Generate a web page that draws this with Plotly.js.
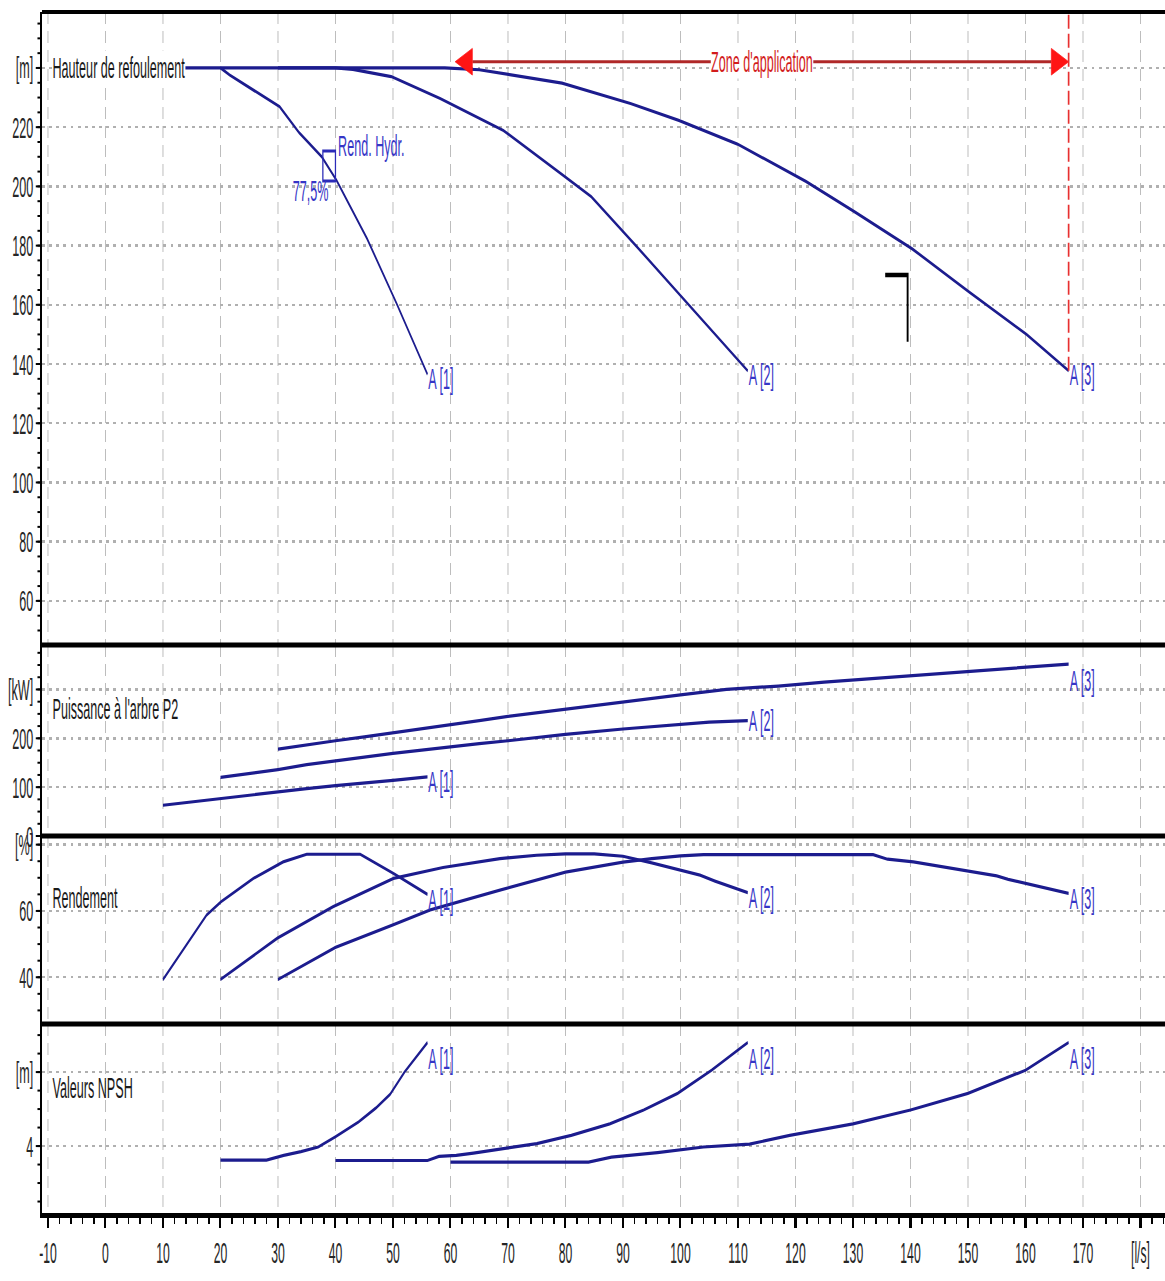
<!DOCTYPE html>
<html><head><meta charset="utf-8">
<script src="https://cdn.plot.ly/plotly-3.0.1.min.js"></script>
<style>
html,body{margin:0;padding:0;overflow:hidden;background:#fff;}
#wrap{width:1165px;height:1281px;overflow:hidden;position:relative;background:#fff;}
#chart{width:2774px;height:1281px;transform:scaleX(0.41997);transform-origin:0 0;}
</style></head><body><div id="wrap"><div id="chart"></div></div>
<script>
// ---------- data (flow Q in l/s) ----------
const pumpNames = ['A [1]', 'A [2]', 'A [3]'];

// Hauteur de refoulement [m]
const headA1_q = [10, 20, 21.6, 25.6, 30.3, 33.7, 37.6, 40.2, 45.5, 50.6, 56];
const headA1_h = [240, 240, 237.6, 232.6, 226.9, 218.1, 210, 202, 182.3, 160.6, 136.5];
const headA2_q = [20, 40, 43, 49.7, 58.2, 69.2, 79.4, 84.5, 92.1, 101.4, 111.7];
const headA2_h = [240, 240, 239.5, 237.1, 229.7, 218.9, 204, 196.5, 180.3, 160, 137.7];
const headA3_q = [30, 59, 65, 79.4, 91.3, 99.7, 109.9, 121.8, 130.3, 140.3, 150.2, 160.2, 167.5];
const headA3_h = [240, 240, 239.4, 234.9, 228, 222.3, 214.3, 201.7, 191.4, 178.9, 164.3, 150, 137.7];

// Puissance à l'arbre P2 [kW]
const powA1_q = [10, 15, 20, 25, 30, 35, 40, 45, 50, 56];
const powA1_p = [63, 70, 77, 84, 90, 97, 103, 108, 114, 121];
const powA2_q = [20, 25, 30, 35, 40, 45, 50, 55, 60, 65, 70, 80, 90, 100, 105, 111.7];
const powA2_p = [120, 128, 136, 146, 154, 162, 169, 176, 183, 189, 195, 208, 219, 229, 233, 236];
const powA3_q = [30, 35, 40, 45, 50, 55, 60, 65, 70, 80, 90, 100, 108, 117, 125, 133, 141, 149, 157, 167.5];
const powA3_p = [178, 187, 195, 203, 211, 219, 228, 236, 245, 260, 275, 289, 300, 307, 315, 322, 329, 335, 342, 352];

// Rendement [%]
const effA1_q = [10, 14, 17.6, 20.1, 25.7, 30.9, 35, 44.3, 50.1, 56];
const effA1_e = [39.3, 49.5, 58.8, 62.8, 69.8, 74.8, 77.1, 77.1, 71.3, 65];
const effA2_q = [20, 29.9, 39.6, 50.1, 58.7, 68.6, 75, 80, 85, 90, 95, 100, 103.4, 106, 111.7];
const effA2_e = [39.3, 51.8, 61.3, 69.8, 73.1, 75.8, 76.8, 77.2, 77.2, 76.5, 74.5, 72.3, 70.8, 69, 65.5];
const effA3_q = [30, 40, 50, 56.5, 68.6, 80, 90, 95, 100, 104, 133.5, 136, 140.5, 145, 149, 152, 155, 157, 159.5, 162, 164, 167.5];
const effA3_e = [39.3, 49, 55.8, 60.3, 66.3, 71.7, 74.7, 75.8, 76.6, 77, 77, 75.6, 74.8, 73.5, 72.5, 71.6, 70.6, 69.5, 68.5, 67.3, 66.5, 65.3];

// Valeurs NPSH [m]
const npA1_q = [20, 28, 31, 34, 37, 40, 44, 47, 49.5, 52, 56];
const npA1_n = [3.24, 3.24, 3.5, 3.7, 3.95, 4.5, 5.3, 6.05, 6.8, 8, 9.6];
const npA2_q = [40, 56, 58, 61, 64, 69, 72, 75, 81, 87.7, 93.6, 99.5, 105.4, 111.7];
const npA2_n = [3.22, 3.22, 3.44, 3.5, 3.62, 3.85, 3.95, 4.13, 4.58, 5.2, 5.95, 6.85, 8.1, 9.6];
const npA3_q = [60, 84, 88, 96, 104, 112, 119, 130, 140, 150, 160, 167.5];
const npA3_n = [3.13, 3.13, 3.4, 3.64, 3.95, 4.1, 4.58, 5.2, 5.95, 6.85, 8.1, 9.6];

// best efficiency point marker (Rend. Hydr.)
const bepQ = 38.9, bepH = 206.9, bepText = '77,5%';
// application zone
const zoneStart = 60.8, zoneEnd = 167.5, zoneH = 242.1;
// small black bracket mark
const bracketQ = [135.6, 139.5, 139.5];
const bracketH = [170.1, 170.1, 147.5];

// axis ticks
const xTickVals = [-10, 0, 10, 20, 30, 40, 50, 60, 70, 80, 90, 100, 110, 120, 130, 140, 150, 160, 170, 180];
const xTickText = ['-10', '0', '10', '20', '30', '40', '50', '60', '70', '80', '90', '100', '110', '120', '130', '140', '150', '160', '170', '[l/s]'];
const headTickVals = [60, 80, 100, 120, 140, 160, 180, 200, 220, 240];
const headTickText = ['60', '80', '100', '120', '140', '160', '180', '200', '220', '[m]'];
const powTickVals = [0, 100, 200, 300];
const powTickText = ['0', '100', '200', '[kW]'];
const effTickVals = [40, 60, 80];
const effTickText = ['40', '60', '[%]'];
const npTickVals = [4, 8];
const npTickText = ['4', '[m]'];

// ---------- styling ----------
const FONT = 'Liberation Sans, Arial, sans-serif';
const CURVE = '#1c1c8e';
const LABEL = '#3636c6';
const dom = {y: [0.47294, 1], y2: [0.3139, 0.47294], y3: [0.15737, 0.3139], y4: [0, 0.15737]};

const traces = [];
function curve(q, v, ya) {
  traces.push({x: q, y: v, xaxis: 'x', yaxis: ya, mode: 'lines', type: 'scatter',
    line: {color: CURVE, width: 3.2}, hoverinfo: 'skip', showlegend: false});
}
const panels = [
  {ya: 'y',  sets: [[headA1_q, headA1_h], [headA2_q, headA2_h], [headA3_q, headA3_h]], anchor: ['middle','middle','middle'], shift: [-4,-4,-4]},
  {ya: 'y2', sets: [[powA1_q, powA1_p], [powA2_q, powA2_p], [powA3_q, powA3_p]], anchor: ['middle','middle','top'], shift: [-5,0,2]},
  {ya: 'y3', sets: [[effA1_q, effA1_e], [effA2_q, effA2_e], [effA3_q, effA3_e]], anchor: ['middle','middle','middle'], shift: [-5,-5,-5]},
  {ya: 'y4', sets: [[npA1_q, npA1_n], [npA2_q, npA2_n], [npA3_q, npA3_n]], anchor: ['top','top','top'], shift: [2,2,2]}
];
const annotations = [];
panels.forEach(p => {
  p.sets.forEach((s, i) => {
    curve(s[0], s[1], p.ya);
    annotations.push({x: s[0][s[0].length - 1], y: s[1][s[1].length - 1], xref: 'x', yref: p.ya,
      text: pumpNames[i], showarrow: false, xanchor: 'left', yanchor: p.anchor[i], yshift: p.shift[i],
      font: {family: FONT, size: 30, color: LABEL}});
  });
});

// BEP marker
traces.push({x: [bepQ], y: [bepH], xaxis: 'x', yaxis: 'y', mode: 'markers', type: 'scatter',
  marker: {symbol: 'square-open', size: 30, color: '#2b2bb8', line: {width: 3, color: '#2b2bb8'}},
  hoverinfo: 'skip', showlegend: false});
annotations.push({x: bepQ, y: bepH, xref: 'x', yref: 'y', text: 'Rend. Hydr.', showarrow: false,
  xanchor: 'left', yanchor: 'middle', xshift: 19, yshift: 20, font: {family: FONT, size: 30, color: LABEL}});
annotations.push({x: bepQ, y: bepH, xref: 'x', yref: 'y', text: bepText, showarrow: false,
  xanchor: 'right', yanchor: 'middle', xshift: 0, yshift: -25, font: {family: FONT, size: 30, color: LABEL}});

// bracket mark
traces.push({x: bracketQ, y: bracketH, xaxis: 'x', yaxis: 'y', mode: 'lines', type: 'scatter',
  line: {color: '#000', width: 4.5}, hoverinfo: 'skip', showlegend: false});

// application zone arrow
const AL = 3, AH = 4.5;
traces.push({x: [zoneStart + AL, zoneEnd - AL], y: [zoneH, zoneH], xaxis: 'x', yaxis: 'y', mode: 'lines',
  type: 'scatter', line: {color: '#b02828', width: 3.2}, hoverinfo: 'skip', showlegend: false});
traces.push({x: [zoneStart, zoneStart + AL, zoneStart + AL, zoneStart], y: [zoneH, zoneH + AH, zoneH - AH, zoneH],
  xaxis: 'x', yaxis: 'y', mode: 'lines', fill: 'toself', fillcolor: '#ff1414', line: {color: '#ff1414', width: 1},
  type: 'scatter', hoverinfo: 'skip', showlegend: false});
traces.push({x: [zoneEnd, zoneEnd - AL, zoneEnd - AL, zoneEnd], y: [zoneH, zoneH + AH, zoneH - AH, zoneH],
  xaxis: 'x', yaxis: 'y', mode: 'lines', fill: 'toself', fillcolor: '#ff1414', line: {color: '#ff1414', width: 1},
  type: 'scatter', hoverinfo: 'skip', showlegend: false});
annotations.push({x: (zoneStart + zoneEnd) / 2, y: zoneH, xref: 'x', yref: 'y', text: "Zone d'application",
  showarrow: false, xanchor: 'center', yanchor: 'middle', bgcolor: '#ffffff', borderpad: 0,
  font: {family: FONT, size: 30, color: '#d21c1c'}});

// panel titles
const titles = [['Hauteur de refoulement', 'y', 240, '#ffffff'], ["Puissance à l'arbre P2", 'y2', 260, null],
  ['Rendement', 'y3', 64.2, null], ['Valeurs NPSH', 'y4', 7.19, null]];
titles.forEach(t => {
  const a = {x: -9.3, y: t[2], xref: 'x', yref: t[1], text: t[0], showarrow: false, xanchor: 'left',
    yanchor: 'middle', borderpad: 0, font: {family: FONT, size: 30, color: '#1a1a1a'}};
  if (t[3]) a.bgcolor = t[3];
  annotations.push(a);
});

const tickFont = {family: FONT, size: 30, color: '#262626'};
function yAxis(d, range, vals, text, minorD) {
  return {domain: d, range: range, anchor: 'x', tickmode: 'array', tickvals: vals, ticktext: text,
    showgrid: true, gridcolor: '#b0b0b0', gridwidth: 2.5, griddash: '7px,10px', zeroline: false,
    showline: true, linecolor: '#000', linewidth: 4.8, ticks: 'outside', ticklen: 10, tickwidth: 2,
    tickcolor: '#000', tickfont: tickFont, automargin: false, fixedrange: true,
    minor: {tickmode: 'linear', tick0: 0, dtick: minorD, ticks: 'outside', ticklen: 6, tickwidth: 2,
      tickcolor: '#000', showgrid: false}};
}

const shapes = [1, dom.y[0], dom.y2[0], dom.y3[0]].map(v => ({type: 'line', xref: 'paper', yref: 'paper',
  x0: 0, x1: 1, y0: v, y1: v, line: {color: '#000', width: v === 1 ? 4 : 5}}));
shapes.push({type: 'line', xref: 'x', yref: 'y', x0: zoneEnd, x1: zoneEnd,
  y0: headA3_h[headA3_h.length - 1], y1: 258.9, line: {color: '#e83030', width: 4, dash: '14px,5px'}});

const layout = {
  width: 2774, height: 1281, margin: {l: 100, r: 0, t: 12, b: 68},
  paper_bgcolor: '#ffffff', plot_bgcolor: '#ffffff', showlegend: false,
  xaxis: {domain: [0, 1], range: [-11.04, 184.26], anchor: 'y4', tickmode: 'array', tickvals: xTickVals,
    ticktext: xTickText, showgrid: true, gridcolor: '#b8b8b8', gridwidth: 2.2, griddash: '12px,7px',
    zeroline: false, showline: true, linecolor: '#000', linewidth: 5, ticks: 'outside', ticklen: 10,
    tickwidth: 4.8, tickcolor: '#000', tickfont: {family: FONT, size: 29, color: '#262626'},
    ticklabelstandoff: 0, automargin: false, fixedrange: true,
    minor: {tickmode: 'linear', tick0: 0, dtick: 2, ticks: 'outside', ticklen: 6, tickwidth: 4,
      tickcolor: '#000', showgrid: false}},
  yaxis: yAxis(dom.y, [45.1, 258.9], headTickVals, headTickText, 5),
  yaxis2: yAxis(dom.y2, [0, 391], powTickVals, powTickText, 25),
  yaxis3: yAxis(dom.y3, [25.9, 82.6], effTickVals, effTickText, 5),
  yaxis4: yAxis(dom.y4, [0.38, 10.6], npTickVals, npTickText, 1),
  annotations: annotations, shapes: shapes
};

Plotly.newPlot('chart', traces, layout, {displayModeBar: false, staticPlot: true});
</script></body></html>
